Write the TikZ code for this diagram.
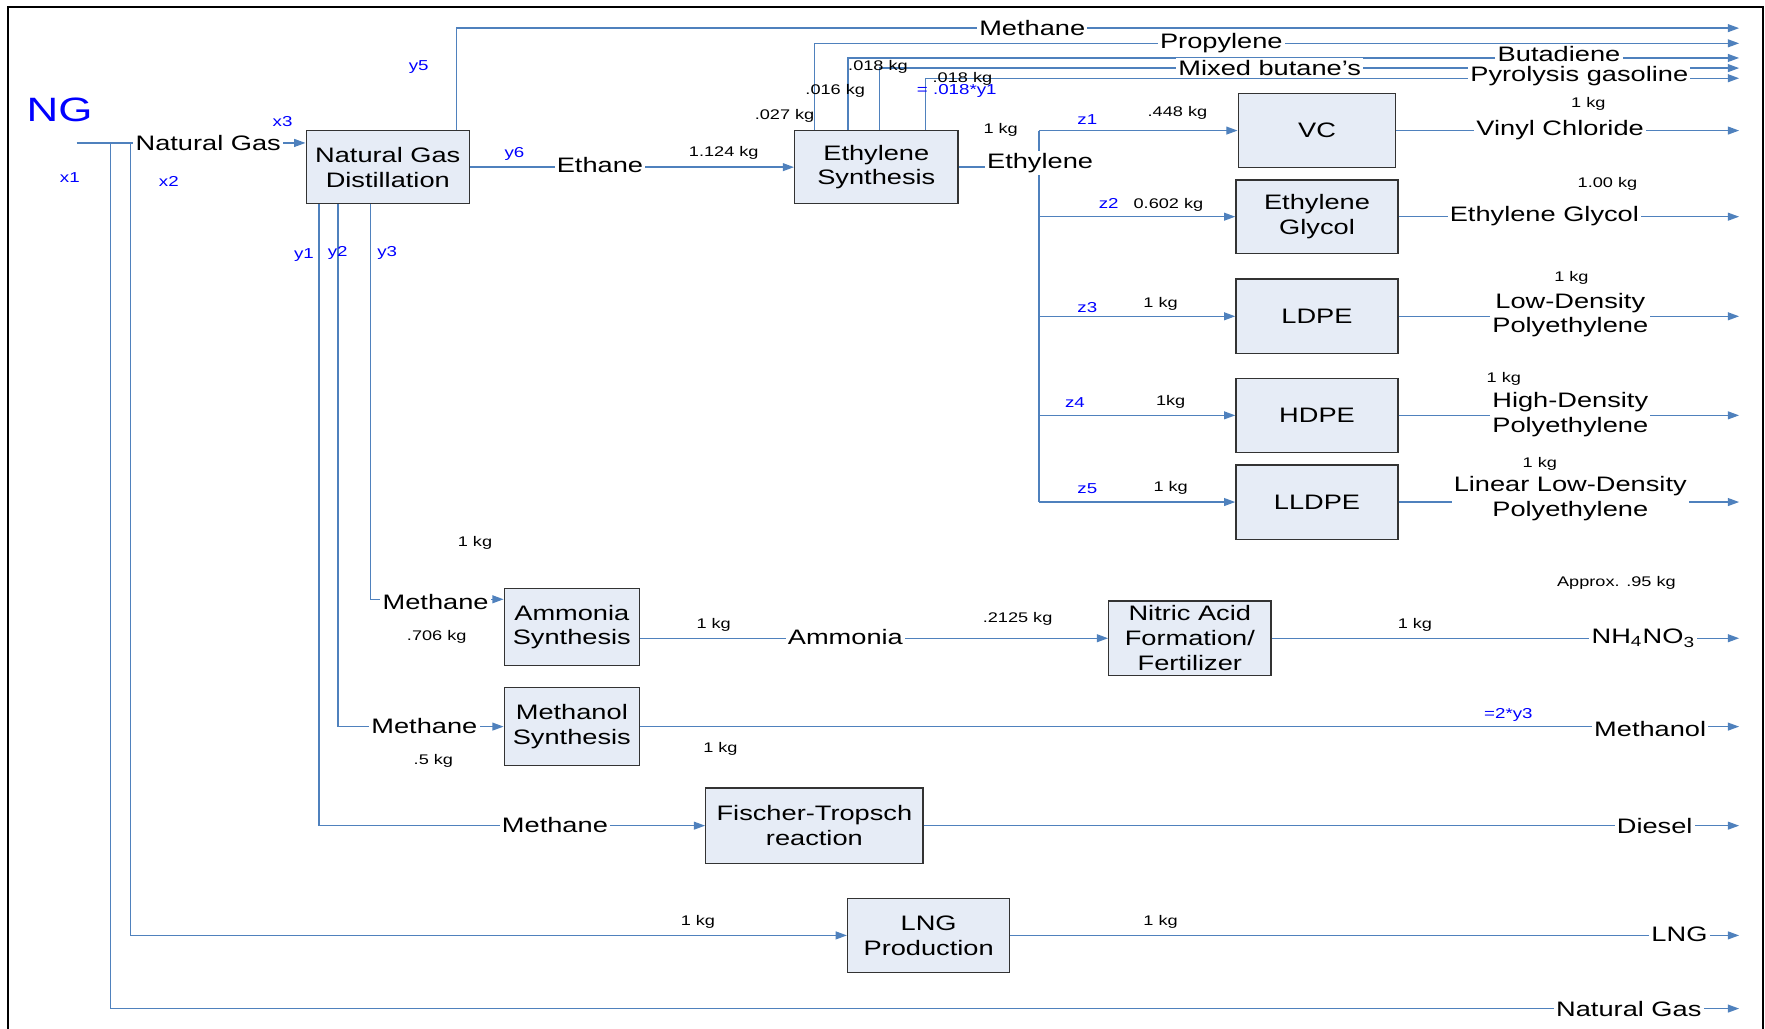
\documentclass[tikz,border=0pt]{standalone}
\usepackage{fontspec}
\setmainfont{Liberation Sans}[FakeStretch=1.3]
\usetikzlibrary{arrows.meta,calc}
\definecolor{flowblue}{RGB}{79,129,189}
\definecolor{boxfill}{RGB}{230,236,246}
\definecolor{varblue}{RGB}{0,0,255}
\tikzset{proc/.style={draw=black!80, fill=boxfill, line width=0.6pt, align=center,
        minimum width=72pt, minimum height=33pt, inner sep=0pt,
        font=\fontsize{9.3}{11}\selectfont},
    pipe/.style={draw=flowblue, line width=0.6pt},
    flow/.style={pipe, -{Triangle[length=5pt,width=3.5pt]}},
    stream/.style={fill=white, inner sep=1pt, align=center,
        font=\fontsize{9.3}{11}\selectfont},
    qty/.style={inner sep=0pt, font=\fontsize{6.2}{7}\selectfont},
    var/.style={inner sep=0pt, text=varblue, font=\fontsize{6.4}{7}\selectfont},
    frame/.style={draw=black, line width=1pt},
    }

\begin{document}
\begin{tikzpicture}[x=0.5pt,y=-0.5pt]
\useasboundingbox (0,0) rectangle (1568,914);
\draw[frame] (7,914) -- (7,6) -- (1566,6) -- (1566,914);

% process boxes
\node[proc, minimum width=72.5pt, minimum height=32.5pt] (ngd) at (344.5,148.5) {Natural Gas\\Distillation};
\node[proc, minimum width=72.5pt, minimum height=32.5pt] (eth) at (778.5,148.5) {Ethylene\\Synthesis};
\node[proc, minimum width=70pt] (vc) at (1170,116) {VC};
\node[proc, minimum height=32.5pt] (eg) at (1170,192.5) {Ethylene\\Glycol};
\node[proc] (ldpe) at (1170,281) {LDPE};
\node[proc] (hdpe) at (1170,369) {HDPE};
\node[proc] (lldpe) at (1170,446) {LLDPE};
\node[proc, minimum width=60pt, minimum height=34pt] (amm) at (508,557) {Ammonia\\Synthesis};
\node[proc, minimum width=60pt, minimum height=34.5pt] (meoh) at (508,645.5) {Methanol\\Synthesis};
\node[proc] (nitric) at (1057,567) {Nitric Acid\\Formation/\\Fertilizer};
\node[proc, minimum width=96.5pt, minimum height=33.5pt] (ft) at (723.5,733.5) {Fischer-Tropsch\\reaction};
\node[proc] (lng) at (825,831) {LNG\\Production};

% taps and outlets
\coordinate (ngsrc) at (68,127);
\coordinate (tapx1) at (98,127);
\coordinate (tapx2) at (116,127);
\coordinate (bus) at (923,116);
\coordinate (oend) at (1545,0);
\coordinate (o-meth) at (1545,25);
\coordinate (o-prop) at (1545,38.5);
\coordinate (o-buta) at (1545,51.5);
\coordinate (o-mix) at (1545,60.5);
\coordinate (o-pyro) at (1545,69.5);
\coordinate (o-ng) at (1545,896);

% natural gas split
\draw[flow] (ngsrc) -- (ngd.west |- ngsrc);
\draw[flow] (tapx1) |- (o-ng);
\draw[flow] (tapx2) |- (lng.west);
\draw[flow] (lng.east) -- (lng.east -| oend);

% distillation
\draw[flow] ($(ngd.north east)+(-12,0)$) |- (o-meth);
\draw[flow] (ngd.east) -- (eth.west);
\draw[flow] ($(ngd.south west)+(12,0)$) |- (ft.west);
\draw[flow] ($(ngd.south west)+(29,0)$) |- (meoh.west);
\draw[flow] ($(ngd.south west)+(58,0)$) |- ($(amm.north west)+(0,10)$);
\draw[flow] (amm.east |- nitric.west) -- (nitric.west);
\draw[flow] (nitric.east) -- (nitric.east -| oend);
\draw[flow] (meoh.east) -- (meoh.east -| oend);
\draw[flow] (ft.east) -- (ft.east -| oend);

% ethylene synthesis
\draw[flow] ($(eth.north west)+(18,0)$) |- (o-prop);
\draw[flow] ($(eth.north west)+(48,0)$) |- (o-buta);
\draw[flow] ($(eth.north west)+(76,0)$) |- (o-mix);
\draw[flow] ($(eth.north west)+(117,0)$) |- (o-pyro);
\draw[pipe] (eth.east) -- (eth.east -| bus);
\draw[pipe] (bus) -- (bus |- lldpe.west);
\draw[flow] (bus) -- (vc.west);
\draw[flow] (bus |- eg.west) -- (eg.west);
\draw[flow] (bus |- ldpe.west) -- (ldpe.west);
\draw[flow] (bus |- hdpe.west) -- (hdpe.west);
\draw[flow] (bus |- lldpe.west) -- (lldpe.west);
\draw[flow] (vc.east) -- (vc.east -| oend);
\draw[flow] (eg.east) -- (eg.east -| oend);
\draw[flow] (ldpe.east) -- (ldpe.east -| oend);
\draw[flow] (hdpe.east) -- (hdpe.east -| oend);
\draw[flow] (lldpe.east) -- (lldpe.east -| oend);

% stream names
\node[stream] (s-ng) at (185,127) {Natural Gas};
\node[stream] (s-meth) at (917,25) {Methane};
\node[stream] (s-prop) at (1085,38) {Propylene};
\node[stream] (s-buta) at (1385,48) {Butadiene};
\node[stream] (s-mix) at (1128,60) {Mixed butane’s};
\node[stream] (s-pyro) at (1403,68) {Pyrolysis gasoline};
\node[stream] (s-ethane) at (533,147) {Ethane};
\node[stream] (s-ethyl) at (924,145) {Ethylene};
\node[stream] (s-vc) at (1386,116) {Vinyl Chloride};
\node[stream] (s-eg) at (1372,192) {Ethylene Glycol};
\node[stream] (s-ldpe) at (1395,280) {Low-Density\\Polyethylene};
\node[stream] (s-hdpe) at (1395,368) {High-Density\\Polyethylene};
\node[stream] (s-lldpe) at (1395,443) {Linear Low-Density\\Polyethylene};
\node[stream] (s-m1) at (387,535) {Methane};
\node[stream] (s-m2) at (377,645) {Methane};
\node[stream] (s-m3) at (493,733) {Methane};
\node[stream] (s-amm) at (751,566) {Ammonia};
\node[stream] (s-an) at (1460,567) {NH\textsubscript{4}NO\textsubscript{3}};
\node[stream] (s-meoh) at (1466,648) {Methanol};
\node[stream] (s-dies) at (1470,734) {Diesel};
\node[stream] (s-lng) at (1492,830) {LNG};
\node[stream] (s-ngout) at (1447,896) {Natural Gas};

% quantities
\node[qty] (q-ethane) at (643,136) {1.124 kg};
\node[qty] (q-prop) at (697,103) {.027 kg};
\node[qty] (q-buta) at (742,81) {.016 kg};
\node[qty] (q-mix) at (780,59) {.018 kg};
\node[qty] (q-pyro) at (855,70) {.018 kg};
\node[qty] (q-ethyl) at (889,115) {1 kg};
\node[qty] (q-z1) at (1046,100) {.448 kg};
\node[qty] (q-z2) at (1038,182) {0.602 kg};
\node[qty] (q-z3) at (1031,270) {1 kg};
\node[qty] (q-z4) at (1040,357) {1kg};
\node[qty] (q-z5) at (1040,433) {1 kg};
\node[qty] (q-vc) at (1411,92) {1 kg};
\node[qty] (q-eg) at (1428,163) {1.00 kg};
\node[qty] (q-ldpe) at (1396,247) {1 kg};
\node[qty] (q-hdpe) at (1336,337) {1 kg};
\node[qty] (q-lldpe) at (1368,412) {1 kg};
\node[qty] (q-ammin) at (422,482) {1 kg};
\node[qty] (q-ammch) at (388,566) {.706 kg};
\node[qty] (q-meoh) at (385,676) {.5 kg};
\node[qty] (q-amm) at (634,555) {1 kg};
\node[qty] (q-nit) at (904,550) {.2125 kg};
\node[qty] (q-an) at (1257,555) {1 kg};
\node[qty] (q-apx) at (1436,518) {Approx. .95 kg};
\node[qty] (q-meout) at (640,665) {1 kg};
\node[qty] (q-lngin) at (620,819) {1 kg};
\node[qty] (q-lngout) at (1031,819) {1 kg};

% variables
\node[var, font=\fontsize{15}{16}\selectfont] (ng) at (53,98) {NG};
\node[var] (v-x1) at (62,158) {x1};
\node[var] (v-x2) at (150,161) {x2};
\node[var] (v-x3) at (251,108) {x3};
\node[var] (v-y5) at (372,60) {y5};
\node[var] (v-y6) at (457,137) {y6};
\node[var] (v-y1) at (270,227) {y1};
\node[var] (v-y2) at (300,225) {y2};
\node[var] (v-y3) at (344,225) {y3};
\node[var] (v-z1) at (966,106) {z1};
\node[var] (v-z2) at (985,181) {z2};
\node[var] (v-z3) at (966,273) {z3};
\node[var] (v-z4) at (955,358) {z4};
\node[var] (v-z5) at (966,434) {z5};
\node[var] (v-pyro) at (850,81) {= .018*y1};
\node[var] (v-meoh) at (1340,635) {=2*y3};
\end{tikzpicture}
\end{document}
